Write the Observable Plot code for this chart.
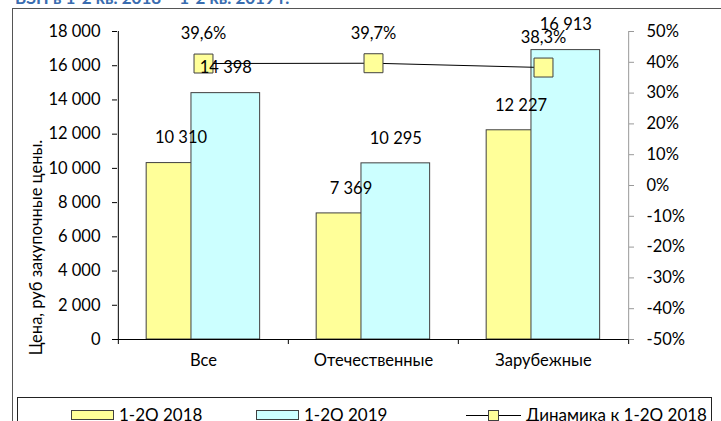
<!DOCTYPE html>
<html><head><meta charset="utf-8">
<script src="https://cdn.jsdelivr.net/npm/d3@7"></script>
<script src="https://cdn.jsdelivr.net/npm/@observablehq/plot@0.6"></script>
<style>
body{margin:0;background:#fff;font-family:Lato,sans-serif;}
#wrap{position:relative;width:721px;height:421px;overflow:hidden;background:#fff;}
#title{position:absolute;left:15px;top:-12px;font:bold 17px Lato,sans-serif;line-height:20px;color:#3a6db0;white-space:nowrap;}
#frame{position:absolute;left:12px;top:8px;width:800px;height:500px;border:1px solid #555;box-sizing:border-box;}
#chart{position:absolute;left:0;top:0;}
#legend{position:absolute;left:17px;top:397px;width:695px;height:40px;border:1px solid #222;box-sizing:border-box;background:#fff;}
.lg{position:absolute;font:17px Lato,sans-serif;line-height:20px;top:7px;white-space:nowrap;color:#000;}
.sw{position:absolute;top:12px;height:10px;width:43px;border:1px solid #404040;box-sizing:border-box;}
</style></head>
<body>
<div id="wrap">
  <div id="frame"></div>
  <div id="title"></div>
  <div id="chart"></div>
  <div id="legend"></div>
</div>
<script>
const titleText = "ВЗП в 1-2 кв. 2018 – 1-2 кв. 2019 г.";
const categories = ["Все", "Отечественные", "Зарубежные"];
const values2018 = [10310, 7369, 12227];
const values2019 = [14398, 10295, 16913];
const dynamics = [0.396, 0.397, 0.383];
const leftTicks = [0, 2000, 4000, 6000, 8000, 10000, 12000, 14000, 16000, 18000];
const rightTicks = [-0.5, -0.4, -0.3, -0.2, -0.1, 0, 0.1, 0.2, 0.3, 0.4, 0.5];
const seriesNames = ["1-2Q 2018", "1-2Q 2019", "Динамика к 1-2Q 2018"];
const yTitle = "Цена, руб закупочные цены.";
const colors = ["#FFFF99", "#CCFFFF"];

document.getElementById("title").textContent = titleText;

const yMax = 18000;
const pctToY = p => (p + 0.5) * yMax;
const fmtNum = v => d3.format(",")(v).replace(/,/g, " ");
const fmtPct = p => d3.format(".1f")(p * 100).replace(".", ",") + "%";

const rows2018 = categories.map((c, i) => ({cat: c, v: values2018[i]}));
const rows2019 = categories.map((c, i) => ({cat: c, v: values2019[i]}));
const dynRows = categories.map((c, i) => ({cat: c, p: dynamics[i]}));

const W = 721, H = 397, mL = 117, mR = 93, mT = 31, mB = 58;
const bw = (W - mL - mR) / categories.length;
const half = bw / 2;
const barW = 69;
const inset = (bw - barW) / 2;
const off1 = -22.5, off2 = 22.3;

const chart = Plot.plot({
  width: W, height: H,
  marginLeft: mL, marginRight: mR, marginTop: mT, marginBottom: mB,
  style: {fontFamily: "Lato, sans-serif", fontSize: "16.5px", color: "#000", background: "transparent", overflow: "visible"},
  x: {domain: categories, padding: 0, axis: null},
  y: {domain: [0, yMax], axis: null},
  marks: [
    Plot.barY(rows2018, {x: "cat", y: "v", fill: colors[0], stroke: "#404040", strokeWidth: 1, insetLeft: inset, insetRight: inset, dx: off1}),
    Plot.barY(rows2019, {x: "cat", y: "v", fill: colors[1], stroke: "#404040", strokeWidth: 1, insetLeft: inset, insetRight: inset, dx: off2}),
    Plot.ruleY([0], {stroke: "#000"}),
    Plot.ruleX([categories[0]], {x: d => d, dx: -half, stroke: "#000"}),
    Plot.ruleX([categories[categories.length - 1]], {x: d => d, dx: half, stroke: "#999"}),
    Plot.ruleX(categories, {x: d => d, y1: 0, y2: 0, dx: -half, insetBottom: -5, stroke: "#000"}),
    Plot.ruleX([categories[categories.length - 1]], {x: d => d, y1: 0, y2: 0, dx: half, insetBottom: -5, stroke: "#000"}),
    Plot.axisX({tickSize: 0, tickPadding: 15, label: null, fill: "#000"}),
    Plot.axisY({anchor: "left", ticks: leftTicks, tickFormat: fmtNum, tickSize: 5, tickPadding: 12, label: null, stroke: "#000", fill: "#000"}),
    Plot.axisY({anchor: "right", ticks: rightTicks.map(pctToY), tickFormat: v => `${Math.round(v / yMax * 100 - 50)}%`, tickSize: 5, tickPadding: 13, label: null, stroke: "#999", fill: "#000"}),
    Plot.line(dynRows, {x: "cat", y: d => pctToY(d.p), stroke: "#000", strokeWidth: 1}),
    Plot.dot(dynRows, {x: "cat", y: d => pctToY(d.p), symbol: "square", r: 10.7, fill: colors[0], stroke: "#404040", strokeWidth: 1}),
    Plot.text(rows2018, {x: "cat", y: "v", text: d => fmtNum(d.v), dx: off1, dy: -25, fill: "#000"}),
    Plot.text(rows2019, {x: "cat", y: "v", text: d => fmtNum(d.v), dx: off2, dy: -25, fill: "#000"}),
    Plot.text(dynRows, {x: "cat", y: d => pctToY(d.p), text: d => fmtPct(d.p), dy: -30, fill: "#000"}),
    Plot.text([yTitle], {frameAnchor: "left", textAnchor: "middle", rotate: -90, dx: -81, dy: 62, fill: "#000"})
  ]
});
document.getElementById("chart").appendChild(chart);

// legend
const lg = document.getElementById("legend");
const lx = 17;
function add(html) { lg.insertAdjacentHTML("beforeend", html); }
add(`<div class="sw" style="left:${70 - lx}px;background:${colors[0]}"></div>`);
add(`<div class="lg" style="left:${118 - lx}px">${seriesNames[0]}</div>`);
add(`<div class="sw" style="left:${255 - lx}px;background:${colors[1]}"></div>`);
add(`<div class="lg" style="left:${303 - lx}px">${seriesNames[1]}</div>`);
add(`<div style="position:absolute;left:${465 - lx}px;top:17px;width:55px;height:1px;background:#000"></div>`);
add(`<div style="position:absolute;left:${487 - lx}px;top:12px;width:11px;height:11px;background:${colors[0]};border:1px solid #404040;box-sizing:border-box"></div>`);
add(`<div class="lg" style="left:${525 - lx}px">${seriesNames[2]}</div>`);
</script>
</body></html>
